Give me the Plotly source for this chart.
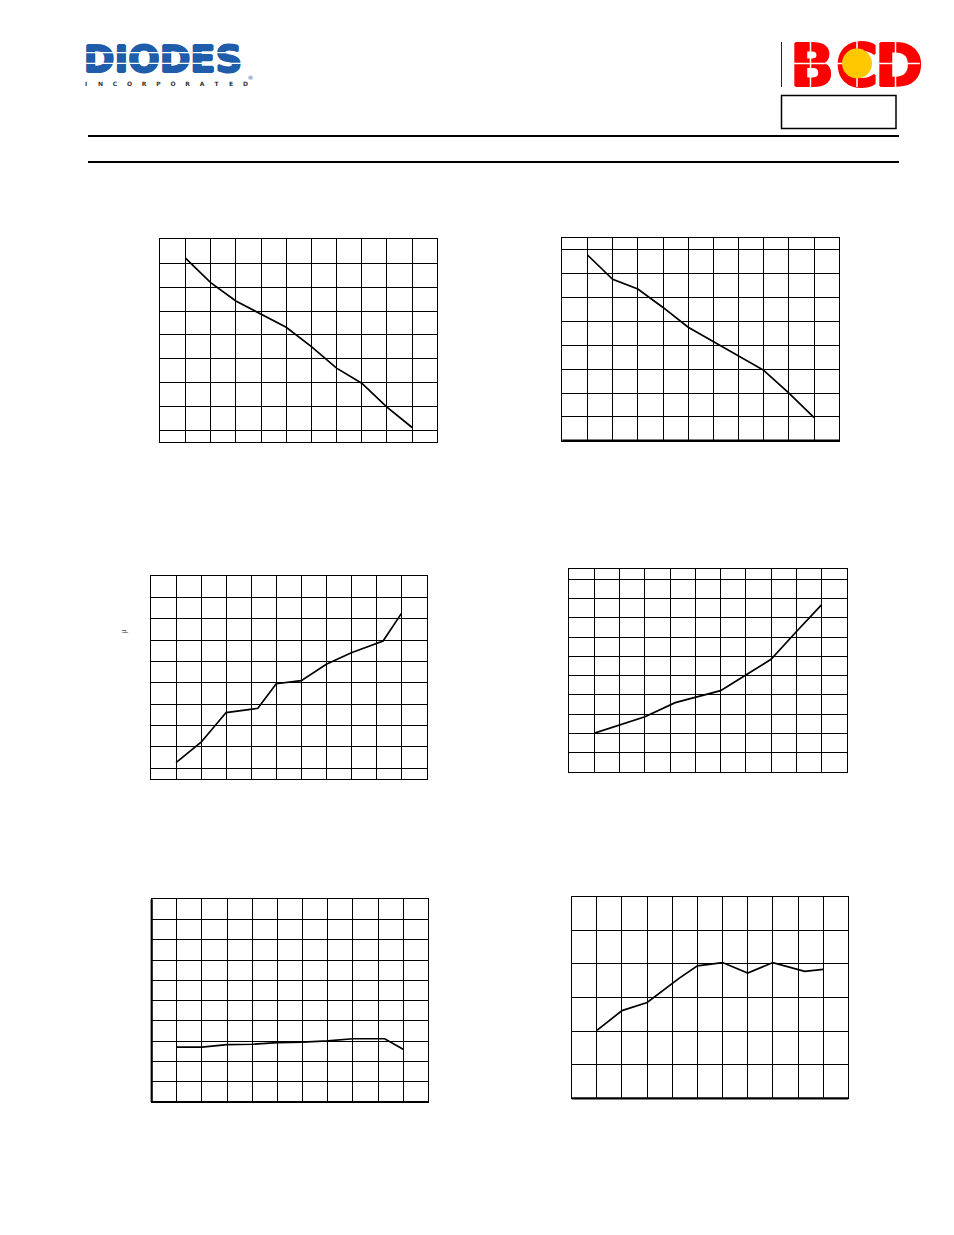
import plotly.graph_objects as go

# ---------------- data (x: temperature in °C, y: value in chart units) ----------------
x_grid = [-40, -25, -10, 5, 20, 35, 50, 65, 80, 95, 110, 125]

c1_x = [-25, -10, 5, 20, 35, 50, 65, 80, 95, 110]
c1_y = [7.21, 6.19, 5.42, 4.88, 4.32, 3.51, 2.61, 1.98, 0.98, 0.13]

c2_x = [-25, -10, 5, 20, 35, 50, 65, 80, 95, 110]
c2_y = [7.79, 6.77, 6.36, 5.59, 4.76, 4.16, 3.53, 2.95, 2.00, 0.97]

c3_x = [-25, -10, 5, 24, 35, 50, 65, 80, 99, 110]
c3_y = [0.27, 1.22, 2.61, 2.81, 3.96, 4.10, 4.87, 5.41, 5.96, 7.25]

c4_x = [-25, -10, 5, 23, 35, 50, 65, 80, 95, 110]
c4_y = [2.02, 2.44, 2.87, 3.60, 3.86, 4.22, 5.03, 5.85, 7.28, 8.67]

c5_x = [-25, -10, 5, 20, 35, 50, 65, 80, 99, 110]
c5_y = [2.71, 2.71, 2.83, 2.85, 2.93, 2.95, 3.02, 3.12, 3.12, 2.60]

c6_x = [-25, -10, 5, 24, 35, 50, 65, 80, 99, 110]
c6_y = [2.02, 2.61, 2.85, 3.57, 3.94, 4.04, 3.73, 4.04, 3.78, 3.84]

y_ranges = [[-0.49, 8], [0, 8.49], [-0.5, 9], [0, 10.52], [0, 10], [0, 6]]

logo_left = "DIODES"
logo_sub = list("INCORPORATED")
logo_right = ["B", "C", "D"]

# ---------------- layout geometry (pixels) ----------------
W, H = 954, 1235
frames = [  # left, top, right, bottom
    (160.3, 239.3, 437.3, 442.3),
    (562.3, 238.3, 839.3, 440.7),
    (151.0, 576.0, 426.5, 779.0),
    (569.3, 569.3, 846.7, 772.0),
    (151.7, 899.3, 428.3, 1102.0),
    (571.7, 896.7, 848.3, 1098.3),
]
thick = [[], ["bottom"], [], [], ["left", "bottom"], ["bottom"]]
series = [(c1_x, c1_y), (c2_x, c2_y), (c3_x, c3_y), (c4_x, c4_y), (c5_x, c5_y), (c6_x, c6_y)]

fig = go.Figure()
shapes = []
layout = dict(
    width=W, height=H, autosize=False,
    margin=dict(l=0, r=0, t=0, b=0, pad=0),
    paper_bgcolor="white", plot_bgcolor="rgba(0,0,0,0)",
    showlegend=False,
)

for i, ((L, T, R, B), (xs, ys), yr, th) in enumerate(zip(frames, series, y_ranges, thick), start=1):
    xa = "xaxis" if i == 1 else f"xaxis{i}"
    ya = "yaxis" if i == 1 else f"yaxis{i}"
    xr = "x" if i == 1 else f"x{i}"
    yrf = "y" if i == 1 else f"y{i}"
    layout[xa] = dict(domain=[L / W, R / W], range=[x_grid[0], x_grid[-1]], anchor=yrf,
                      tick0=x_grid[0], dtick=x_grid[1] - x_grid[0],
                      showgrid=True, gridcolor="black", gridwidth=1,
                      showline=True, mirror=True, linecolor="black", linewidth=1,
                      zeroline=False, showticklabels=False, ticks="", fixedrange=True)
    layout[ya] = dict(domain=[1 - B / H, 1 - T / H], range=yr, anchor=xr,
                      tick0=0, dtick=1,
                      showgrid=True, gridcolor="black", gridwidth=1,
                      showline=True, mirror=True, linecolor="black", linewidth=1,
                      zeroline=False, showticklabels=False, ticks="", fixedrange=True)
    fig.add_trace(go.Scatter(x=xs, y=ys, xaxis=xr, yaxis=yrf, mode="lines",
                             line=dict(color="black", width=1.7), hoverinfo="skip"))
    for side in th:
        if side == "bottom":
            shapes.append(dict(type="line", xref=f"{xr} domain", yref=f"{yrf} domain",
                               x0=0, x1=1, y0=0, y1=0, line=dict(color="black", width=2.2), layer="above"))
        if side == "left":
            shapes.append(dict(type="line", xref=f"{xr} domain", yref=f"{yrf} domain",
                               x0=0, x1=0, y0=0, y1=1, line=dict(color="black", width=2.2), layer="above"))

# page axis in pixel coordinates for header elements
layout["xaxis7"] = dict(domain=[0, 1], range=[0, W], visible=False, anchor="y7", fixedrange=True)
layout["yaxis7"] = dict(domain=[0, 1], range=[H, 0], visible=False, anchor="x7", fixedrange=True)

BLUE = "#1F5CA9"
RED = "#FF0000"
thick_blue = f"1px 0 0 {BLUE}, -1px 0 0 {BLUE}, 0 1px 0 {BLUE}, 0 -0.5px 0 {BLUE}"
thick_red = f"1px 0 0 {RED}, -1px 0 0 {RED}, 0 1px 0 {RED}, 0 -1px 0 {RED}"

# DIODES logo
fig.add_trace(go.Scatter(x=[163], y=[62.5], xaxis="x7", yaxis="y7", mode="text",
                         text=[logo_left], textposition="middle center",
                         textfont=dict(family="DejaVu Sans", size=37, color=BLUE, weight="bold",
                                       shadow=thick_blue),
                         hoverinfo="skip"))
fig.add_trace(go.Scatter(x=[86 + k * 14.5 for k in range(len(logo_sub))], y=[84.5] * len(logo_sub),
                         xaxis="x7", yaxis="y7", mode="text", text=logo_sub, textposition="middle center",
                         textfont=dict(family="DejaVu Sans", size=6, color="#333333", weight="bold"),
                         hoverinfo="skip"))
fig.add_trace(go.Scatter(x=[250.5], y=[78], xaxis="x7", yaxis="y7", mode="text", text=["®"],
                         textposition="middle center",
                         textfont=dict(family="DejaVu Sans", size=6, color=BLUE), hoverinfo="skip"))
# white stripes through DIODES
for yy in (52.7, 63.3):
    shapes.append(dict(type="line", xref="x7", yref="y7", x0=82, x1=245, y0=yy, y1=yy,
                       line=dict(color="white", width=1.3), layer="above"))

# BCD logo
fig.add_trace(go.Scatter(x=[812, 857, 899], y=[71, 71, 71], xaxis="x7", yaxis="y7", mode="text",
                         text=logo_right, textposition="middle center",
                         textfont=dict(family="DejaVu Sans", size=58, color=RED, weight="bold",
                                       shadow=thick_red),
                         hoverinfo="skip"))
for xx in (810.5, 857, 895.5):
    shapes.append(dict(type="line", xref="x7", yref="y7", x0=xx, x1=xx, y0=41, y1=87,
                       line=dict(color="white", width=1.5), layer="above"))
shapes.append(dict(type="line", xref="x7", yref="y7", x0=789, x1=920, y0=63.5, y1=63.5,
                   line=dict(color="white", width=1.5), layer="above"))
shapes.append(dict(type="circle", xref="x7", yref="y7", x0=842, x1=872, y0=48.5, y1=78.5,
                   fillcolor="#FFC800", line=dict(width=0), layer="above"))
# thin separator left of BCD logo
shapes.append(dict(type="line", xref="x7", yref="y7", x0=781.5, x1=781.5, y0=42, y1=87,
                   line=dict(color="#222222", width=1), layer="above"))
# empty box under logo
shapes.append(dict(type="rect", xref="x7", yref="y7", x0=781.5, x1=896, y0=95.5, y1=128.5,
                   line=dict(color="black", width=1.5), layer="above"))
# header rules
for yy in (136, 162):
    shapes.append(dict(type="line", xref="x7", yref="y7", x0=88, x1=899, y0=yy, y1=yy,
                       line=dict(color="black", width=2), layer="above"))

layout["shapes"] = shapes
layout["annotations"] = [dict(xref="x7", yref="y7", x=123.5, y=632, text="µ", showarrow=False,
                              textangle=-90, font=dict(family="Liberation Sans", size=7, color="#444444"))]
fig.update_layout(**layout)

fig.write_html("out.html", config={"displayModeBar": False, "staticPlot": True},
               post_script="document.body.style.margin='0';document.body.style.overflow='hidden';")
